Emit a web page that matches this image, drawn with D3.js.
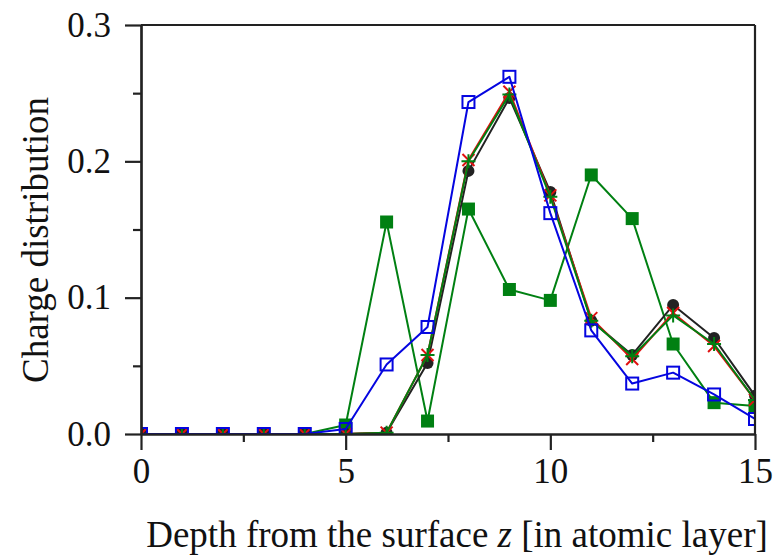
<!DOCTYPE html>
<html><head><meta charset="utf-8">
<script src="https://cdn.jsdelivr.net/npm/d3@7"></script>
<style>body{margin:0;background:#fff}svg{display:block}</style>
</head><body>
<svg id="c" width="776" height="558"></svg>
<script>
const depth = [0,1,2,3,4,5,6,7,8,9,10,11,12,13,14,15];
const blueOpen   = [0,0,0,0,0,0.0037,0.051,0.0785,0.2435,0.262,0.162,0.076,0.037,0.045,0.029,0.011];
const greenFill  = [0,0,0,0,0,0.0066,0.1555,0.0095,0.165,0.106,0.098,0.19,0.158,0.066,0.023,0.0205];
const blackDot   = [0,0,0,0,0,0,0.001,0.052,0.193,0.2465,0.1775,0.083,0.058,0.0946,0.0704,0.028];
const redCross   = [0,0,0,0,0,0,0.001,0.058,0.201,0.251,0.175,0.085,0.055,0.0888,0.0645,0.025];
const greenPlus  = [0,0,0,0,0,0,0.001,0.058,0.200,0.249,0.174,0.083,0.057,0.087,0.066,0.025];
const xMajor = [0,5,10,15], xMinor = [2.5,7.5,12.5];
const yMajor = [0,0.1,0.2,0.3], yMinor = [0.05,0.15,0.25];
const xTitle = "Depth from the surface ";
const xTitleVar = "z";
const xTitleEnd = " [in atomic layer]";
const yTitle = "Charge distribution";

const svg = d3.select("#c");
const x = d3.scaleLinear().domain([0,15]).range([141,755]);
const y = d3.scaleLinear().domain([0,0.3]).range([434,25]);
const axisCol = "#222";
const font = "'Liberation Serif','Times New Roman',serif";

svg.append("defs").append("clipPath").attr("id","clip").append("rect")
  .attr("x",141).attr("y",25).attr("width",614).attr("height",409);

const plot = svg.append("g").attr("clip-path","url(#clip)");
const line = d3.line().x((d,i)=>x(depth[i])).y(d=>y(d));

function drawLine(data,color,w){
  plot.append("path").datum(data).attr("d",line).attr("fill","none")
    .attr("stroke",color).attr("stroke-width",w).attr("stroke-linejoin","round");
}
const green = "#008012", blue = "#0505e0", red = "#e01010", black = "#222";

// green filled squares
drawLine(greenFill,green,2);
plot.selectAll(".gs").data(greenFill).enter().append("rect")
  .attr("x",(d,i)=>x(depth[i])-6.5).attr("y",d=>y(d)-6.5).attr("width",13).attr("height",13)
  .attr("fill",green);

// black circles
drawLine(blackDot,black,2);
plot.selectAll(".bc").data(blackDot).enter().append("circle")
  .attr("cx",(d,i)=>x(depth[i])).attr("cy",d=>y(d)).attr("r",6).attr("fill",black);

// red crosses
drawLine(redCross,red,2);
plot.selectAll(".rc").data(redCross).enter().append("path")
  .attr("d",(d,i)=>{const cx=x(depth[i]),cy=y(d),s=6;return `M${cx-s},${cy-s}L${cx+s},${cy+s}M${cx-s},${cy+s}L${cx+s},${cy-s}`;})
  .attr("stroke",red).attr("stroke-width",2).attr("fill","none");

// green plus
drawLine(greenPlus,green,2);
plot.selectAll(".gp").data(greenPlus).enter().append("path")
  .attr("d",(d,i)=>{const cx=x(depth[i]),cy=y(d),s=7;return `M${cx-s},${cy}L${cx+s},${cy}M${cx},${cy-s}L${cx},${cy+s}`;})
  .attr("stroke",green).attr("stroke-width",2).attr("fill","none");

// blue open squares
drawLine(blueOpen,blue,2);
plot.selectAll(".bs").data(blueOpen).enter().append("rect")
  .attr("x",(d,i)=>x(depth[i])-6).attr("y",d=>y(d)-6).attr("width",12).attr("height",12)
  .attr("fill","none").attr("stroke",blue).attr("stroke-width",2);

// frame
svg.append("line").attr("x1",141).attr("x2",755).attr("y1",25).attr("y2",25).attr("stroke",axisCol).attr("stroke-width",2.2);
svg.append("line").attr("x1",755).attr("x2",755).attr("y1",25).attr("y2",434).attr("stroke",axisCol).attr("stroke-width",2.2);

// axes
function styleAxis(g){
  g.select(".domain").attr("stroke",axisCol).attr("stroke-width",2.2);
  g.selectAll(".tick line").attr("stroke",axisCol).attr("stroke-width",2.2);
  g.selectAll(".tick text").attr("fill","#111").style("font-family",font).style("font-size","35px");
}
const gxMin = svg.append("g").attr("transform","translate(0,434)")
  .call(d3.axisBottom(x).tickValues(xMinor).tickSize(8).tickFormat("").tickSizeOuter(0));
styleAxis(gxMin);
const gx = svg.append("g").attr("transform","translate(0,434)")
  .call(d3.axisBottom(x).tickValues(xMajor).tickSize(16).tickSizeOuter(0).tickPadding(8).tickFormat(d3.format("d")));
styleAxis(gx);

const gyMin = svg.append("g").attr("transform","translate(141,0)")
  .call(d3.axisLeft(y).tickValues(yMinor).tickSize(8).tickFormat("").tickSizeOuter(0));
styleAxis(gyMin);
const gy = svg.append("g").attr("transform","translate(141,0)")
  .call(d3.axisLeft(y).tickValues(yMajor).tickSize(16).tickSizeOuter(0).tickPadding(14).tickFormat(d3.format(".1f")));
styleAxis(gy);

// titles
const xt = svg.append("text").attr("x",457).attr("y",547).attr("text-anchor","middle")
  .style("font-family",font).style("font-size","37px").attr("fill","#111");
xt.append("tspan").text(xTitle);
xt.append("tspan").style("font-style","italic").text(xTitleVar);
xt.append("tspan").text(xTitleEnd);

svg.append("text").attr("transform","translate(48,240) rotate(-90)").attr("text-anchor","middle")
  .style("font-family",font).style("font-size","37px").attr("fill","#111").text(yTitle);
</script>
</body></html>
